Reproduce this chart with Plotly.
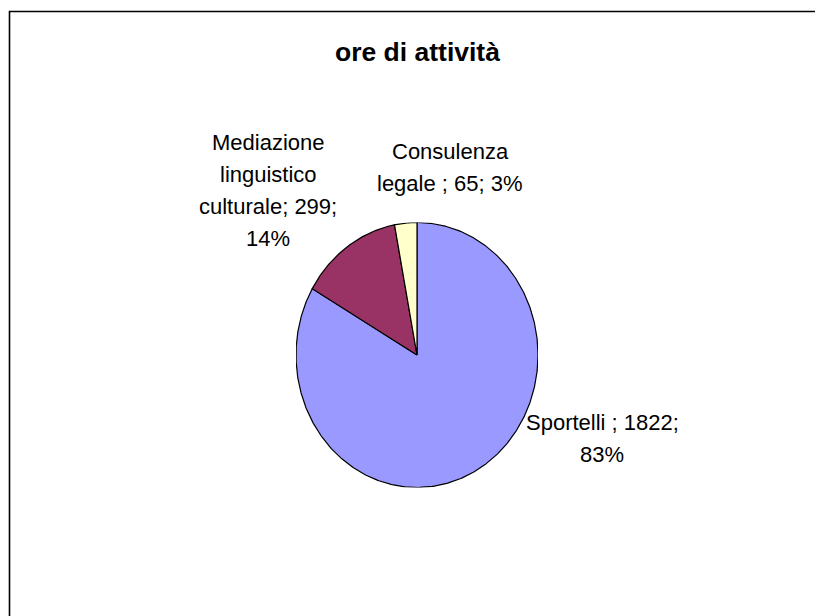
import textwrap
import numpy as np
import plotly.graph_objects as go

# Hours of activity per service
categories = ["Sportelli ", "Mediazione linguistico culturale", "Consulenza legale "]
hours = [1822, 299, 65]
colors = ["#9999FF", "#993366", "#FFFFCC"]
title_text = "ore di attività"

W, H = 815, 616
FONT = "Liberation Sans, Arial, sans-serif"

# label layout: (center x px, first baseline y px, wrap width in chars)
label_layout = [(602, 430, 17), (268, 150, 15), (450, 159, 15)]
LINE_STEP = 32

# pie ellipse bounds in pixels (left, right, top, bottom)
PIE_L, PIE_R, PIE_T, PIE_B = 296, 538, 222.5, 487.5

total = sum(hours)
fracs = [h / total for h in hours]

fig = go.Figure()

# wedges: start at 12 o'clock and run clockwise, drawn on a unit circle
start = 0.0
for cat, h, f, col in zip(categories, hours, fracs, colors):
    a0 = np.pi / 2 - 2 * np.pi * start
    a1 = np.pi / 2 - 2 * np.pi * (start + f)
    n = max(int(abs(a1 - a0) / np.radians(0.5)), 2)
    t = np.linspace(a0, a1, n)
    xs = np.concatenate([[0], np.cos(t), [0]])
    ys = np.concatenate([[0], np.sin(t), [0]])
    fig.add_trace(go.Scatter(
        x=xs, y=ys, mode="lines", fill="toself", fillcolor=col,
        line=dict(color="black", width=1.2), name=cat.strip(),
        hoverinfo="text", text=f"{cat}; {h}; {round(f * 100)}%",
        showlegend=False,
    ))
    start += f

# data labels, one annotation per wrapped line
annotations = []
for cat, h, f, (cx, by, width) in zip(categories, hours, fracs, label_layout):
    label = f"{cat}; {h}; {round(f * 100)}%"
    lines = textwrap.wrap(label, width=width)
    for i, line in enumerate(lines):
        baseline = by + i * LINE_STEP
        annotations.append(dict(
            x=cx / W, y=1 - (baseline - 7.6) / H, xref="paper", yref="paper",
            xanchor="center", yanchor="middle", showarrow=False,
            text=line, font=dict(family=FONT, size=22, color="black"),
        ))

# chart title
annotations.append(dict(
    x=417 / W, y=1 - (61 - 9.2) / H, xref="paper", yref="paper",
    xanchor="center", yanchor="middle", showarrow=False,
    text=f"<b>{title_text}</b>", font=dict(family=FONT, size=26.5, color="black"),
))

fig.update_layout(
    width=W, height=H,
    margin=dict(l=0, r=0, t=0, b=0),
    paper_bgcolor="white", plot_bgcolor="rgba(0,0,0,0)",
    xaxis=dict(domain=[PIE_L / W, PIE_R / W], range=[-1, 1], visible=False,
               fixedrange=True),
    yaxis=dict(domain=[1 - PIE_B / H, 1 - PIE_T / H], range=[-1, 1],
               visible=False, fixedrange=True),
    annotations=annotations,
    shapes=[dict(
        type="rect", xref="paper", yref="paper",
        x0=9.5 / W, x1=1.2, y0=-0.2, y1=1 - 11.5 / H,
        line=dict(color="black", width=1.6), fillcolor="rgba(0,0,0,0)",
        layer="below",
    )],
    showlegend=False,
)

fig.write_html("out.html")
